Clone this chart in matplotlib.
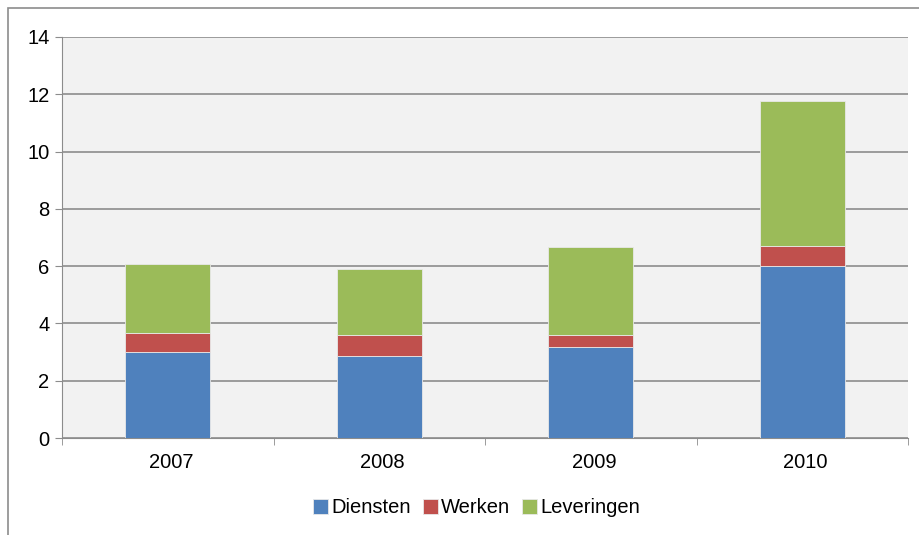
import numpy as np
import matplotlib.pyplot as plt
from matplotlib.patches import Rectangle

plt.rcParams['font.family'] = ['Liberation Sans', 'DejaVu Sans']

# Gegevens
jaren = ['2007', '2008', '2009', '2010']
diensten = [2.99, 2.87, 3.17, 6.00]
werken = [0.67, 0.72, 0.42, 0.72]
leveringen = [2.41, 2.30, 3.09, 5.03]

kleuren = ['#4F81BD', '#C0504D', '#9BBB59']

fig = plt.figure(figsize=(9.2, 5.35), dpi=100)
ax = fig.add_axes([62/920, 97/535, 846/920, 401/535])

# Kader rond de grafiek
fig.patches.append(Rectangle((8/920, -0.1), 1.2, (535-8)/535 + 0.1,
                             transform=fig.transFigure, fill=False,
                             edgecolor='#8c8c8c', linewidth=1.2))

x = np.arange(len(jaren))
onder = np.zeros(len(jaren))
for waarden, naam, kleur in zip([diensten, werken, leveringen],
                                ['Diensten', 'Werken', 'Leveringen'], kleuren):
    ax.bar(x, waarden, 0.4, bottom=onder, color=kleur, label=naam,
           edgecolor='#e8e8e8', linewidth=0.6, zorder=3)
    onder += np.array(waarden)

ax.set_facecolor('#f2f2f2')
ax.set_xlim(-0.5, 3.5)
ax.set_ylim(0, 14)
ax.set_yticks(range(0, 15, 2))
ax.set_xticks(x + 0.015)
ax.set_xticklabels(jaren)
ax.set_xticks(np.arange(-0.5, 4, 1), minor=True)
ax.tick_params(axis='x', which='major', length=0, pad=11, labelsize=14.5)
ax.tick_params(axis='x', which='minor', length=5, color='#8c8c8c', direction='out')
ax.tick_params(axis='y', length=5, color='#8c8c8c', labelsize=14.5, pad=4)
ax.grid(axis='y', color='#8c8c8c', linewidth=1.2, zorder=0)
ax.set_axisbelow(True)
for s in ['top', 'right']:
    ax.spines[s].set_visible(False)
for s in ['left', 'bottom']:
    ax.spines[s].set_color('#8c8c8c')

ax.legend(loc='upper center', bbox_to_anchor=(0.49, -0.105), ncol=3,
          frameon=False, fontsize=14.5, handlelength=0.75, handleheight=0.75,
          handletextpad=0.15, columnspacing=0.6)

plt.savefig('out.png', dpi=100)
